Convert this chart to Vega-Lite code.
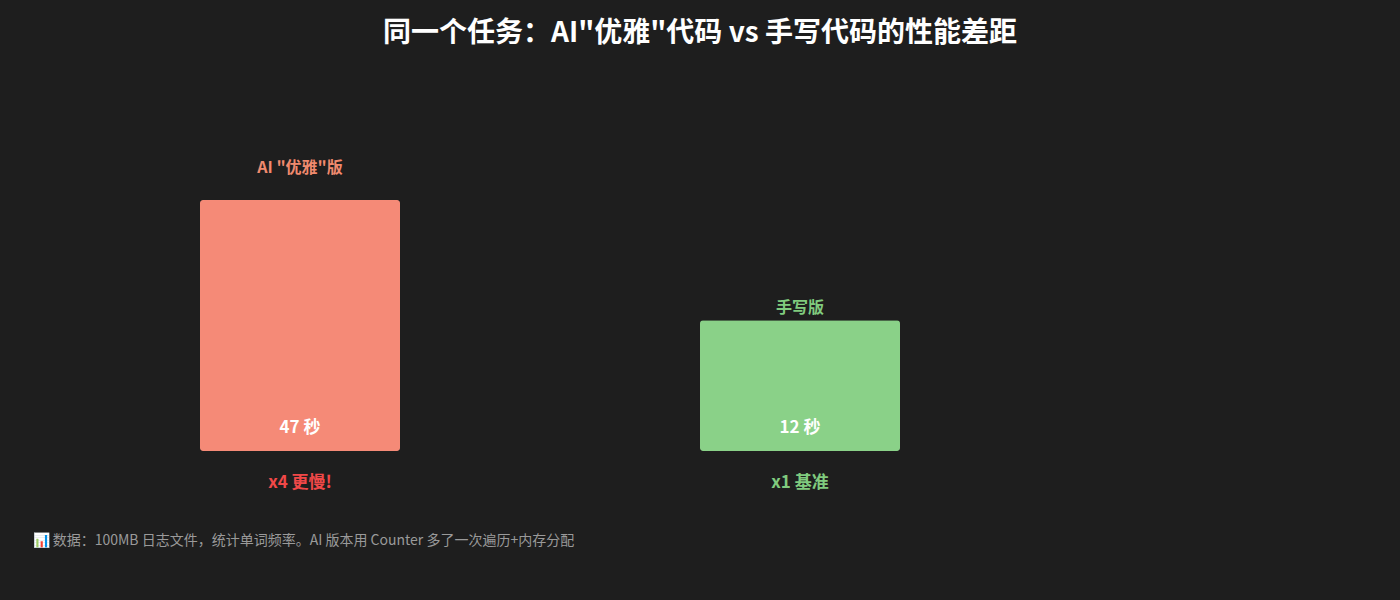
{
  "$schema": "https://vega.github.io/schema/vega-lite/v6.json",
  "autosize": "none",
  "width": 1000,
  "height": 251,
  "padding": {"left": 50, "top": 200, "right": 350, "bottom": 149},
  "background": "#1e1e1e",
  "config": {
    "font": "Noto Sans CJK SC",
    "view": {"stroke": null}
  },
  "title": {
    "text": "同一个任务：AI\"优雅\"代码 vs 手写代码的性能差距",
    "anchor": "middle",
    "dx": 150,
    "offset": 98,
    "baseline": "middle",
    "fontSize": 28,
    "fontWeight": "bold",
    "color": "#ffffff"
  },
  "data": {
    "values": [
      {"version": "AI \"优雅\"版", "seconds": 47, "time_text": "47 秒", "ratio_text": "x4 更慢!", "kind": "ai"},
      {"version": "手写版", "seconds": 12, "time_text": "12 秒", "ratio_text": "x1 基准", "kind": "hand"}
    ]
  },
  "encoding": {
    "x": {
      "field": "version",
      "type": "nominal",
      "sort": null,
      "scale": {"paddingInner": 0.6, "paddingOuter": 0.3},
      "axis": {
        "labels": false,
        "ticks": false,
        "domain": false,
        "title": "📊 数据：100MB 日志文件，统计单词频率。AI 版本用 Counter 多了一次遍历+内存分配",
        "titleAnchor": "start",
        "titleAlign": "left",
        "titleX": -18,
        "titleY": 89,
        "titleBaseline": "middle",
        "titleFontSize": 14,
        "titleFontWeight": "normal",
        "titleColor": "#9a9a9a"
      }
    }
  },
  "layer": [
    {
      "mark": {"type": "bar", "cornerRadius": 3},
      "encoding": {
        "y": {
          "field": "seconds",
          "type": "quantitative",
          "scale": {"type": "pow", "exponent": 0.477, "domain": [0, 47], "nice": false},
          "axis": null
        },
        "color": {
          "field": "kind",
          "type": "nominal",
          "scale": {"domain": ["ai", "hand"], "range": ["#f58a77", "#8ad188"]},
          "legend": null
        }
      }
    },
    {
      "mark": {
        "type": "text",
        "baseline": "middle",
        "fontSize": 16,
        "fontWeight": "bold",
        "dy": {"expr": "datum.kind == 'ai' ? -32 : -12"}
      },
      "encoding": {
        "y": {"field": "seconds", "type": "quantitative"},
        "text": {"field": "version"},
        "color": {
          "field": "kind",
          "type": "nominal",
          "scale": {"domain": ["ai", "hand"], "range": ["#f08a6e", "#80cb7e"]},
          "legend": null
        }
      }
    },
    {
      "mark": {
        "type": "text",
        "baseline": "middle",
        "fontSize": 17,
        "fontWeight": "bold",
        "dy": -23,
        "color": "#ffffff"
      },
      "encoding": {
        "y": {"datum": 0, "type": "quantitative"},
        "text": {"field": "time_text"}
      }
    },
    {
      "mark": {
        "type": "text",
        "baseline": "middle",
        "fontSize": 17,
        "fontWeight": "bold",
        "dy": 32
      },
      "encoding": {
        "y": {"datum": 0, "type": "quantitative"},
        "text": {"field": "ratio_text"},
        "color": {
          "field": "kind",
          "type": "nominal",
          "scale": {"domain": ["ai", "hand"], "range": ["#f04848", "#80cb7e"]},
          "legend": null
        }
      }
    }
  ],
  "resolve": {"scale": {"color": "independent"}}
}
